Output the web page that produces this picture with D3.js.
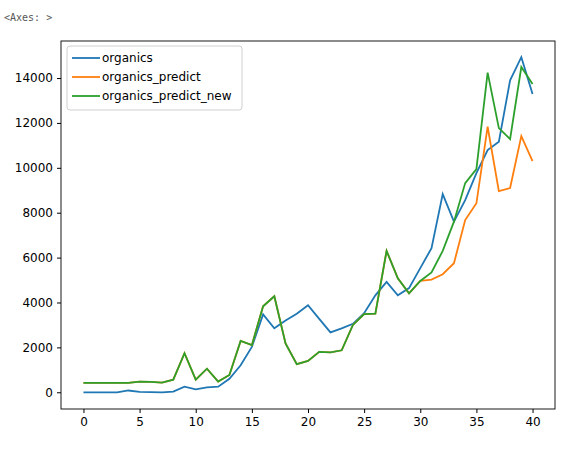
<!DOCTYPE html>
<html><head><meta charset="utf-8">
<script src="https://cdn.jsdelivr.net/npm/d3@7"></script>
<style>body{margin:0;background:#fff}text{font-family:"DejaVu Sans",sans-serif}</style>
</head><body><svg width="586" height="450"></svg>
<script>
var organics = [0,0,0,0,80,20,10,0,30,250,130,220,250,600,1200,2020,3470,2850,3200,3500,3880,3270,2670,2850,3050,3520,4320,4920,4320,4640,5530,6420,8830,7600,8560,9760,10790,11160,13900,14930,13290];
var predictNew = [415,415,415,415,415,470,460,430,560,1740,560,1050,480,770,2290,2100,3830,4280,2180,1250,1400,1800,1780,1870,3000,3480,3500,6300,5080,4410,4960,5340,6300,7600,9320,9940,14240,11770,11280,14490,13730];
var predict = predictNew.slice(0,30).concat([4960,5020,5260,5750,7670,8420,11830,8960,9100,11410,10300]);
var seriesNames = ['organics','organics_predict','organics_predict_new'];
var xTicks = [0,5,10,15,20,25,30,35,40];
var yTicks = [0,2000,4000,6000,8000,10000,12000,14000];
var colors = ['#1f77b4','#ff7f0e','#2ca02c'];

var svg = d3.select('svg');
svg.append('text').attr('x',4).attr('y',21).style('font-family','"DejaVu Sans Mono",monospace')
   .style('font-size','10px').attr('fill','#555').text('<Axes: >');
var L = 61, R = 555, T = 41, B = 409;
var x = d3.scaleLinear().domain([-2,42]).range([L,R]);
var y = d3.scaleLinear().domain([-745,15650]).range([B,T]);
var ax = d3.axisBottom(x).tickValues(xTicks).tickSize(4).tickPadding(4);
var ay = d3.axisLeft(y).tickValues(yTicks).tickFormat(d3.format('d')).tickSize(4).tickPadding(4);
svg.append('g').attr('transform','translate(0,'+B+')').call(ax);
svg.append('g').attr('transform','translate('+L+',0)').call(ay);
svg.selectAll('.tick text').style('font-size','12px').attr('fill','#000');
svg.selectAll('.domain').remove();
svg.append('rect').attr('x',L).attr('y',T).attr('width',R-L).attr('height',B-T)
   .attr('fill','none').attr('stroke','#000').attr('stroke-width',0.9);
var line = d3.line().x(function(d,i){return x(i);}).y(function(d){return y(d);});
[organics,predict,predictNew].forEach(function(s,i){
  svg.append('path').datum(s).attr('d',line).attr('fill','none')
     .attr('stroke',colors[i]).attr('stroke-width',1.8);
});
var lg = svg.append('g');
lg.append('rect').attr('x',67).attr('y',46).attr('width',175).attr('height',64).attr('rx',3)
  .attr('fill','#fff').attr('stroke','#ccc').attr('opacity',0.9);
seriesNames.forEach(function(n,i){
  var yy = 58 + i*19;
  lg.append('line').attr('x1',72).attr('x2',100).attr('y1',yy).attr('y2',yy)
    .attr('stroke',colors[i]).attr('stroke-width',1.8);
  lg.append('text').attr('x',102).attr('y',yy+4).style('font-size','12px').text(n);
});
</script></body></html>
